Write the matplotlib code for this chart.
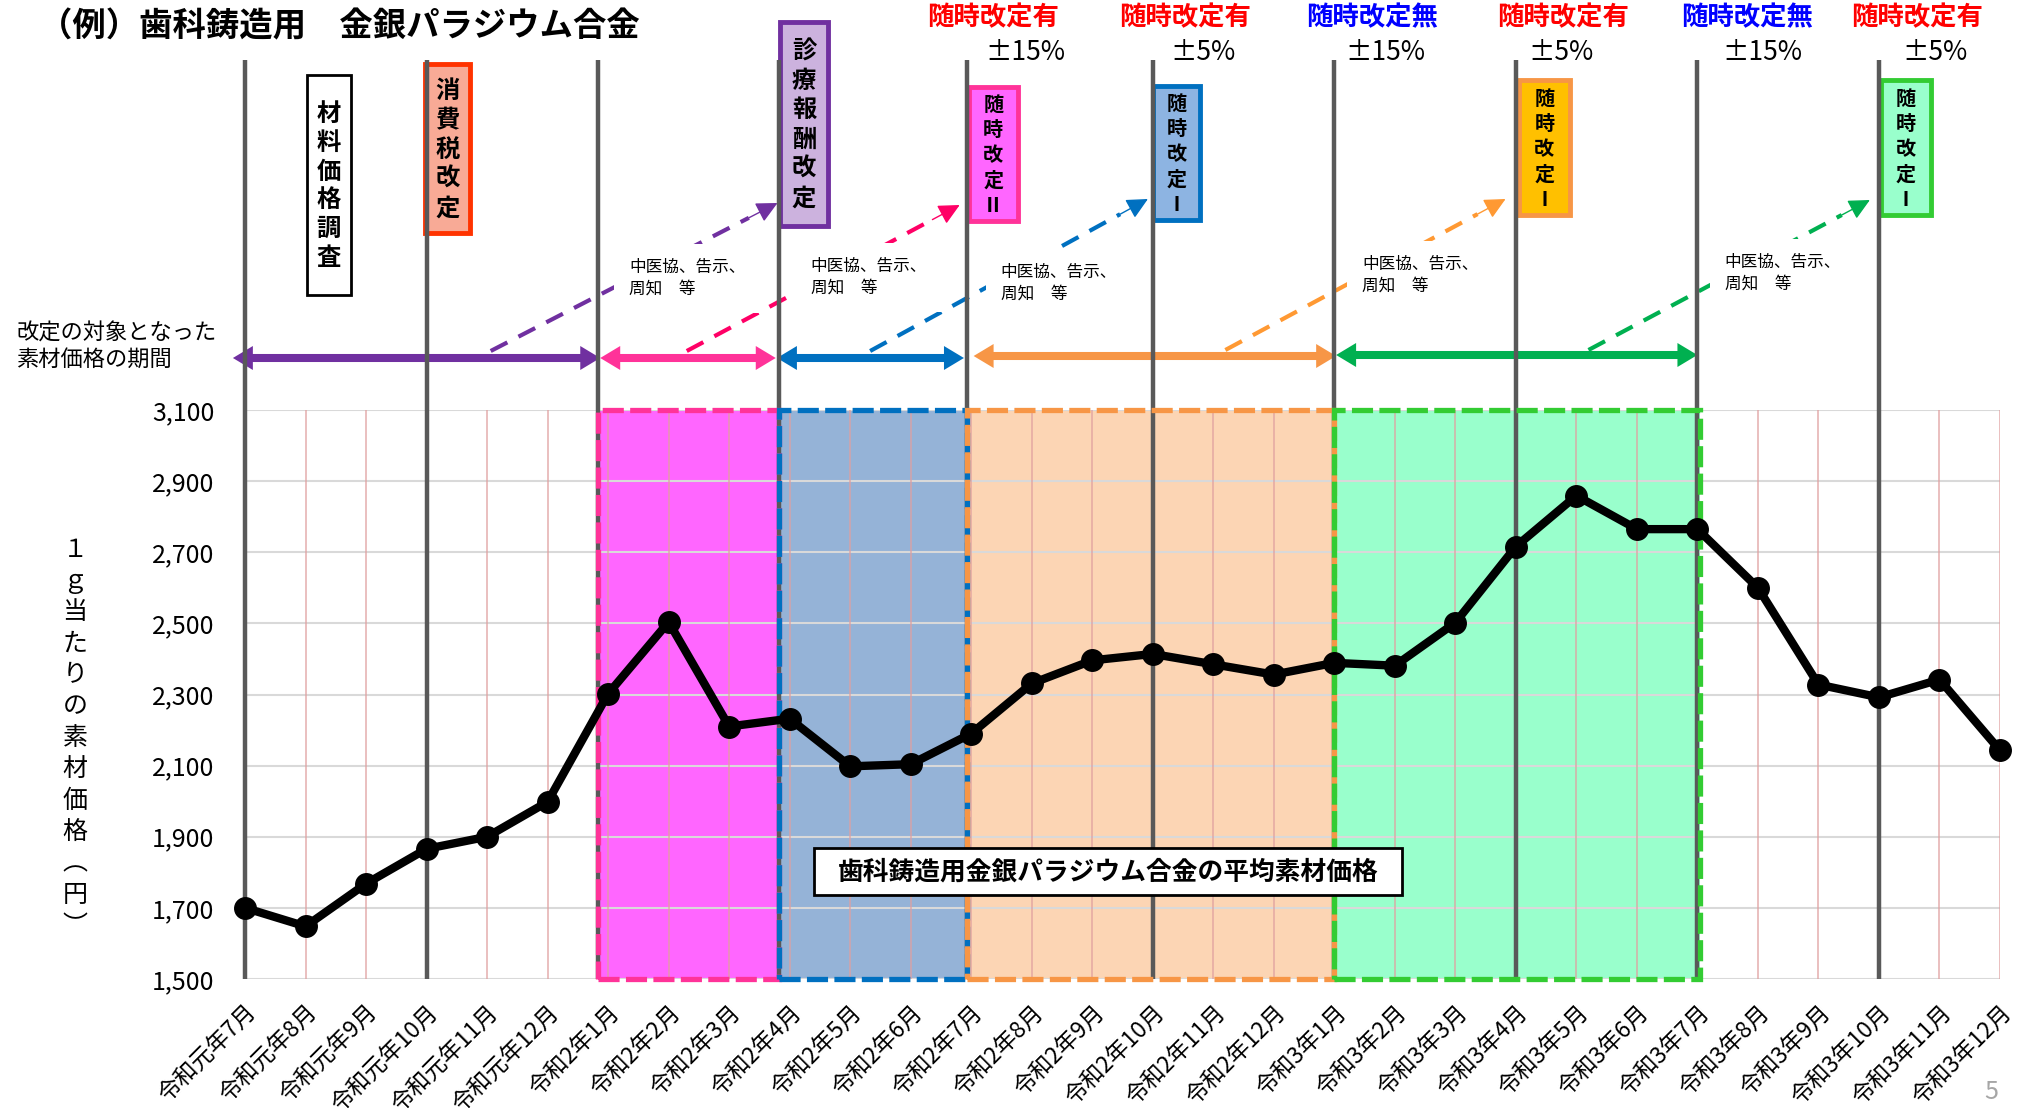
import numpy as np
import matplotlib.pyplot as plt
from matplotlib.patches import Rectangle, Polygon
from matplotlib.transforms import blended_transform_factory

plt.rcParams['font.family'] = ['Noto Sans CJK JP', 'DejaVu Sans']

# 月（横軸）
months = ['令和元年7月', '令和元年8月', '令和元年9月', '令和元年10月', '令和元年11月', '令和元年12月',
          '令和2年1月', '令和2年2月', '令和2年3月', '令和2年4月', '令和2年5月', '令和2年6月',
          '令和2年7月', '令和2年8月', '令和2年9月', '令和2年10月', '令和2年11月', '令和2年12月',
          '令和3年1月', '令和3年2月', '令和3年3月', '令和3年4月', '令和3年5月', '令和3年6月',
          '令和3年7月', '令和3年8月', '令和3年9月', '令和3年10月', '令和3年11月', '令和3年12月']
# 平均素材価格（円/g）
prices = [1700, 1648, 1768, 1866, 1900, 1998, 2302, 2504, 2210, 2232, 2098, 2104,
          2190, 2331, 2396, 2414, 2385, 2356, 2389, 2381, 2502, 2716, 2859, 2765,
          2765, 2600, 2328, 2292, 2342, 2143]
yticks = [1500, 1700, 1900, 2100, 2300, 2500, 2700, 2900, 3100]

# 区切りの縦線（月の位置）
sep_lines = [0, 3, 5.83, 8.82, 11.93, 15, 18, 21, 24, 27]
# 改定の対象となった期間
period_start = [5.83, 8.82, 11.93, 18.0]
period_end = [8.82, 11.93, 18.0, 24.05]
period_fill = ['#FF66FF', '#95B3D7', '#FCD5B4', '#99FFCC']
period_edge = ['#FF3399', '#0070C0', '#F79646', '#33CC33']

fig = plt.figure(figsize=(20.26, 11.13), dpi=100)
L, B, W, H = 245 / 2026, 1 - 979 / 1113, 1755 / 2026, 569 / 1113
ax = fig.add_axes([L, B, W, H])
ax.set_zorder(2)
ax.patch.set_alpha(0)

# 上の注記用（x=月、y=上からのピクセル）
ov = fig.add_axes([0, 0, 1, 1])
ov.set_zorder(1)
ov.axis('off')
ov.set_xlim(-L / W * 29, 29 + (1 - L - W) / W * 29)
ov.set_ylim(1113, 0)
mix = blended_transform_factory(ax.transData, ov.transData)

x = np.arange(len(months))

# 期間の塗り
for s, e, fc, ec in zip(period_start, period_end, period_fill, period_edge):
    ax.axvspan(s, e, color=fc, zorder=1, lw=0)
    ax.add_patch(Rectangle((s, 1500), e - s, 1600, fill=False, ec=ec, lw=3.8,
                           ls=(0, (4, 1.2)), zorder=2.5, clip_on=False))

# グリッド
ax.hlines(yticks, 0, 29, color='#D9D9D9', lw=1.5, zorder=1.5)
ax.vlines(x, 1500, 3100, color='#E0A0A0', lw=1.1, alpha=0.85, zorder=1.5)

# 区切り線
for sx in sep_lines:
    ax.plot([sx, sx], [60, 979], color='#595959', lw=3.2, zorder=2,
            transform=mix, clip_on=False, solid_capstyle='butt')

# 価格の折れ線
ax.plot(x, prices, color='black', lw=6, marker='o', ms=15.5, zorder=4, clip_on=False)

ax.set_xlim(0, 29)
ax.set_ylim(1500, 3100)
ax.set_yticks(yticks)
ax.set_yticklabels([f'{v:,}' for v in yticks], fontsize=18)
ax.set_xticks(x)
ax.set_xticklabels(months, rotation=45, ha='right', va='top', rotation_mode='anchor', fontsize=16.5)
ax.tick_params(axis='y', length=0, pad=22)
ax.tick_params(axis='x', length=0, pad=16)
for sp in ax.spines.values():
    sp.set_visible(False)

# 凡例の枠
ax.add_patch(Rectangle((9.40, 848), 9.72, 47, transform=mix, fc='white', ec='black',
                       lw=2, zorder=5, clip_on=False))
ax.text(14.26, 872, '歯科鋳造用金銀パラジウム合金の平均素材価格', transform=mix,
        ha='center', va='center', fontsize=18.5, fontweight='bold', zorder=6)

# タイトル等
fig.text(39 / 2026, 1 - 27 / 1113, '（例）歯科鋳造用　金銀パラジウム合金', fontsize=24,
         fontweight='bold', ha='left', va='center')
fig.text(1991 / 2026, 1 - 1092 / 1113, '5', fontsize=18, color='#A6A6A6', ha='center', va='center')
ov.text(-3.78, 346, '改定の対象となった\n素材価格の期間', fontsize=16, ha='left', va='center',
        linespacing=1.15)
ov.text(-2.81, 738, '\n'.join('１ｇ当たりの素材価格︵円︶'), fontsize=18, ha='center',
        va='center', ma='center', linespacing=1.27)

# 縦書きの枠
boxes = [
    (1.02, 1.75, 75, 295, '材料価格調査', 'white', 'black', 17.5, 1.25, 2),
    (2.97, 3.72, 64, 233, '消費税改定', '#F8AA96', '#FF3300', 17.5, 1.28, 3.5),
    (8.84, 9.63, 22, 226, '診療報酬改定', '#CCB2DE', '#7030A0', 17.5, 1.28, 3.5),
    (11.96, 12.77, 87, 221, '随時改定Ⅱ', '#FF66FF', '#FF3399', 14.5, 1.25, 3.5),
    (15.0, 15.78, 86, 220, '随時改定Ⅰ', '#8DB4E2', '#0070C0', 14.5, 1.25, 3.5),
    (21.05, 21.89, 80, 215, '随時改定Ⅰ', '#FFC000', '#F79646', 14.5, 1.25, 3.5),
    (27.03, 27.86, 80, 215, '随時改定Ⅰ', '#99FFCC', '#33CC33', 14.5, 1.25, 3.5),
]
for x0, x1, y0, y1, s, fc, ec, fs, ls, lw in boxes:
    ov.add_patch(Rectangle((x0, y0), x1 - x0, y1 - y0, fc=fc, ec=ec, lw=lw, zorder=4))
    ov.text((x0 + x1) / 2, (y0 + y1) / 2 + 1, '\n'.join(s), fontsize=fs, fontweight='bold',
            ha='center', va='center', ma='center', linespacing=ls, zorder=5)

# 随時改定の見出し
heads = [(12.36, 12.9, '随時改定有', '#FF0000', '±15%'),
         (15.53, 15.83, '随時改定有', '#FF0000', '±5%'),
         (18.62, 18.85, '随時改定無', '#0000FF', '±15%'),
         (21.78, 21.74, '随時改定有', '#FF0000', '±5%'),
         (24.82, 25.07, '随時改定無', '#0000FF', '±15%'),
         (27.63, 27.92, '随時改定有', '#FF0000', '±5%')]
for hx, px, s, c, pm in heads:
    ov.text(hx, 18, s, color=c, fontsize=19, fontweight='bold', ha='center', va='center')
    ov.text(px, 52, pm, fontsize=19, ha='center', va='center')


# 期間の両矢印
def double_arrow(x0, x1, y, color):
    hl, hw = 0.33, 12
    ov.plot([x0 + hl * 0.9, x1 - hl * 0.9], [y, y], color=color, lw=5.8,
            solid_capstyle='butt', zorder=3)
    ov.add_patch(Polygon([[x0, y], [x0 + hl, y - hw], [x0 + hl, y + hw]], closed=True,
                         color=color, lw=0, zorder=3, clip_on=False))
    ov.add_patch(Polygon([[x1, y], [x1 - hl, y - hw], [x1 - hl, y + hw]], closed=True,
                         color=color, lw=0, zorder=3, clip_on=False))


arrows = [(-0.2, 5.87, 358, '#7030A0'), (5.87, 8.77, 358, '#FF3399'),
          (8.79, 11.88, 358, '#0070C0'), (12.04, 18.03, 356, '#F79646'),
          (18.03, 24.0, 355, '#00B050')]
for a in arrows:
    double_arrow(*a)

# 破線の矢印
dashes = [(4.06, 351, 8.80, 203, '#7030A0'), (7.30, 351, 11.81, 205, '#FF0066'),
          (10.33, 351, 14.92, 199, '#0070C0'), (16.2, 350, 20.83, 199, '#FF9933'),
          (22.2, 350, 26.85, 200, '#00B050')]
for x0, y0, x1, y1, c in dashes:
    xb, yb = x0 + 0.9 * (x1 - x0), y0 + 0.9 * (y1 - y0)
    ov.plot([x0, xb], [y0, yb], color=c, lw=3, ls=(0, (4.5, 3)), zorder=2)
    ov.annotate('', xy=(x1, y1), xytext=(xb, yb),
                arrowprops=dict(arrowstyle='-|>,head_length=0.65,head_width=0.32', color=c,
                                lw=1, shrinkA=0, shrinkB=0, mutation_scale=20), zorder=2)

# 中医協、告示、周知 等
notes_x = [6.35, 9.35, 12.49, 18.46, 24.45]
notes_y = [259, 258, 264, 256, 254]
for nx, ny in zip(notes_x, notes_y):
    ov.text(nx, ny, '中医協、告示、\n周知　等', fontsize=12, ha='left', va='top', linespacing=1.35,
            zorder=5, bbox=dict(boxstyle='square,pad=0.9', fc='white', ec='none'))

fig.savefig('out.png', dpi=100)
